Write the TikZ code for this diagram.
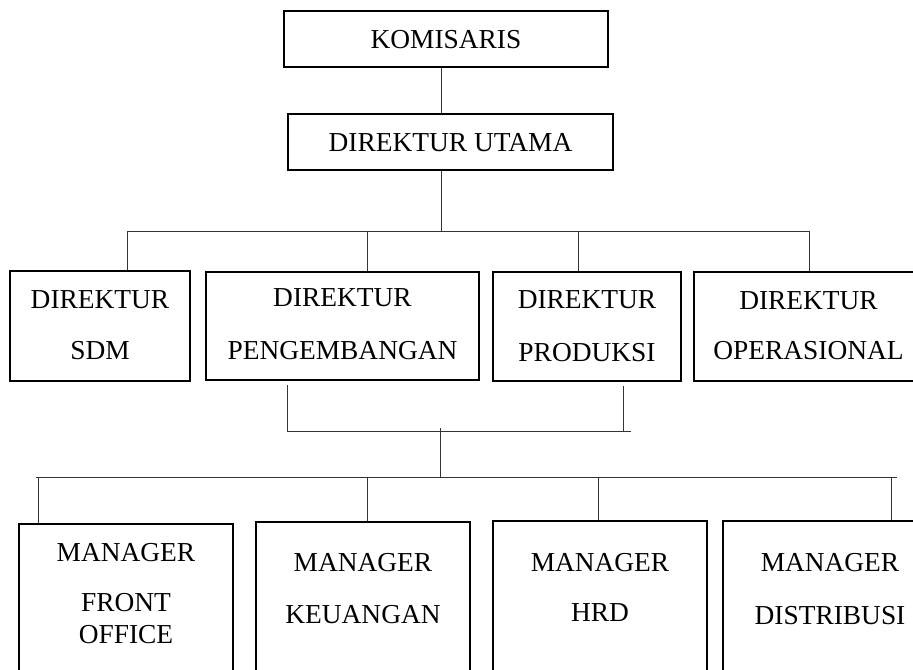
\documentclass[tikz,border=0pt]{standalone}
\usepackage{fontspec}
\setmainfont{Liberation Serif}
\newcommand{\orgfont}{\fontsize{13.7}{16.5}\selectfont}
\newcommand{\duabaris}[3][9.5pt]{\begin{tabular}[t]{@{}c@{}}#2\\[#1]#3\end{tabular}}
\begin{document}
\begin{tikzpicture}[x=0.5pt, y=-0.5pt,
    jabatan/.style={draw, line width=1pt, inner sep=0pt, anchor=north west, font=\orgfont},
    garis/.style={black!80, line width=0.5pt}]
  \useasboundingbox (0,0) rectangle (913,669);
  \clip (0,0) rectangle (913,669);
  % pimpinan
  \node[jabatan, minimum width=162pt, text height=18.5pt, text depth=9.5pt] (komisaris) at (283,10) {KOMISARIS};
  \node[jabatan, minimum width=162.5pt, text height=18.5pt, text depth=9.5pt] (dirut) at (287,113) {DIREKTUR UTAMA};
  % direktur
  \node[jabatan, minimum width=90pt, text height=18.5pt, text depth=36.5pt] (dirsdm) at (9,270) {\duabaris[9pt]{DIREKTUR}{SDM}};
  \node[jabatan, minimum width=136.5pt, text height=17pt, text depth=37pt] (dirpengembangan) at (205,271) {\duabaris[10pt]{DIREKTUR}{PENGEMBANGAN}};
  \node[jabatan, minimum width=94pt, text height=18pt, text depth=36.5pt] (dirproduksi) at (492,271) {\duabaris[10pt]{DIREKTUR}{PRODUKSI}};
  \node[jabatan, minimum width=114.5pt, text height=18.5pt, text depth=36pt] (diroperasional) at (693,271) {\duabaris[8.5pt]{DIREKTUR}{OPERASIONAL}};
  % manager
  \node[jabatan, minimum width=107pt, text height=18.5pt, text depth=80pt] (mgrfo) at (18,523)
    {\begin{tabular}[t]{@{}c@{}}MANAGER\\[8.5pt]FRONT\\[-0.5pt]OFFICE\end{tabular}};
  \node[jabatan, minimum width=107pt, text height=24.5pt, text depth=70pt] (mgrkeu) at (255,521) {\duabaris[9.5pt]{MANAGER}{KEUANGAN}};
  \node[jabatan, minimum width=107pt, text height=25pt, text depth=70pt] (mgrhrd) at (492,520) {\duabaris[8.5pt]{MANAGER}{HRD}};
  \node[jabatan, minimum width=107pt, text height=25pt, text depth=70pt] (mgrdist) at (722,520) {\duabaris[10pt]{MANAGER}{DISTRIBUSI}};
  % titik cabang
  \coordinate (pusat1) at (441,231);
  \coordinate (cab1a) at (127,231);
  \coordinate (cab1b) at (367,231);
  \coordinate (cab1c) at (578,231);
  \coordinate (cab1d) at (809,231);
  \coordinate (pusat2) at (440,428);
  \coordinate (cab2a) at (287,431);
  \coordinate (cab2b) at (623,431);
  \coordinate (ujung2) at (631,431);
  \coordinate (pusat3) at (440,477);
  \coordinate (ujung3a) at (36,477);
  \coordinate (ujung3b) at (897,477);
  \coordinate (cab3a) at (38,477);
  \coordinate (cab3b) at (367,477);
  \coordinate (cab3c) at (598,477);
  \coordinate (cab3d) at (891,477);
  % garis
  \draw[garis] (komisaris.south -| pusat1) -- (dirut.north -| pusat1);
  \draw[garis] (dirut.south -| pusat1) -- (pusat1);
  \draw[garis] (cab1a) -- (cab1d);
  \draw[garis] (cab1a) -- (cab1a |- dirsdm.north);
  \draw[garis] (cab1b) -- (cab1b |- dirpengembangan.north);
  \draw[garis] (cab1c) -- (cab1c |- dirproduksi.north);
  \draw[garis] (cab1d) -- (cab1d |- diroperasional.north);
  \draw[garis, shorten <=2pt] (dirpengembangan.south -| cab2a) -- (cab2a);
  \draw[garis, shorten <=2pt] (dirproduksi.south -| cab2b) -- (cab2b);
  \draw[garis] (cab2a) -- (ujung2);
  \draw[garis] (pusat2) -- (pusat3);
  \draw[garis] (ujung3a) -- (ujung3b);
  \draw[garis] (cab3a) -- (cab3a |- mgrfo.north);
  \draw[garis] (cab3b) -- (cab3b |- mgrkeu.north);
  \draw[garis] (cab3c) -- (cab3c |- mgrhrd.north);
  \draw[garis] (cab3d) -- (cab3d |- mgrdist.north);
\end{tikzpicture}
\end{document}
